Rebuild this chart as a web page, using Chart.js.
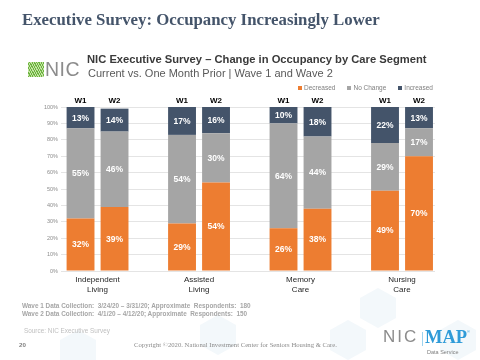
<!DOCTYPE html>
<html>
<head>
<meta charset="utf-8">
<script src="https://cdn.jsdelivr.net/npm/chart.js@4.4.1/dist/chart.umd.min.js"></script>
<style>
  html, body { margin: 0; padding: 0; background: #fff; }
  #slide { position: relative; width: 480px; height: 360px; overflow: hidden; font-family: "Liberation Sans", Arial, sans-serif; }
  #slide canvas { position: absolute; left: 0; top: 0; z-index: 1; }
  .txt { position: absolute; white-space: nowrap; z-index: 2; }
  #bg { position: absolute; left: 0; top: 0; z-index: 0; }
  #title { left: 22px; top: 10px; font-family: "Liberation Serif", "DejaVu Serif", serif; font-weight: bold; font-size: 16.8px; color: #44546a; }
  #nicIcon { position: absolute; left: 28px; top: 62px; width: 16px; height: 15px; z-index: 2;
    background: repeating-linear-gradient(62deg, #6cb33f 0 1px, #c4e3a4 1px 2px); }
  #nicText { left: 45px; top: 58px; font-size: 19.5px; color: #8c8c8c; letter-spacing: 0.5px; }
  #sub1 { left: 87px; top: 53px; font-size: 11.2px; font-weight: bold; color: #3a3a3a; }
  #sub2 { left: 88px; top: 67px; font-size: 11px; color: #595959; }
  #legend { position: absolute; left: 298px; top: 84px; z-index: 2; display: flex; gap: 12px; font-size: 6.5px; color: #7f7f7f; }
  .legend-item { display: flex; align-items: center; white-space: nowrap; }
  .legend-color { display: inline-block; width: 4px; height: 4px; margin-right: 2px; }
  .foot { font-size: 6.4px; color: #a6a6a6; font-weight: bold; }
  #f1 { left: 22px; top: 302px; }
  #f2 { left: 22px; top: 310px; }
  #src { left: 24px; top: 327px; font-size: 6.4px; color: #bfbfbf; }
  #page { left: 19px; top: 341px; font-size: 6.2px; color: #7f7f7f; font-weight: bold; }
  #copy { left: 134px; top: 341px; font-size: 6.7px; color: #8c8c8c; font-family: "Liberation Serif", serif; }
  #logoNic { left: 383px; top: 327px; font-size: 17px; color: #8c8c8c; letter-spacing: 2px; }
  #logoBar { position: absolute; left: 422px; top: 332px; width: 1px; height: 14px; background: #9dd3ef; z-index: 2; }
  #logoMap { left: 425px; top: 327px; font-size: 18.5px; font-weight: bold; color: #2f9bd8; font-family: "Liberation Serif", serif; }
  #logoReg { left: 467px; top: 329px; font-size: 4px; color: #2f9bd8; }
  #logoDs { left: 427px; top: 349px; font-size: 5.5px; color: #7f7f7f; }
</style>
</head>
<body>
<div id="slide">
  <svg id="bg" width="480" height="360">
    <g fill="#f3f8fb" stroke="none">
      <polygon points="200,325 218,315 236,325 236,345 218,355 200,345"/>
      <polygon points="330,330 348,320 366,330 366,350 348,360 330,350"/>
      <polygon points="360,298 378,288 396,298 396,318 378,328 360,318"/>
      <polygon points="60,340 78,330 96,340 96,360 78,370 60,360"/>
      <polygon points="440,330 458,320 476,330 476,350 458,360 440,350"/>
    </g>
  </svg>
  <canvas id="chart" width="480" height="360"></canvas>
  <div class="txt" id="title">Executive Survey: Occupancy Increasingly Lower</div>
  <div id="nicIcon"></div>
  <div class="txt" id="nicText">NIC</div>
  <div class="txt" id="sub1">NIC Executive Survey – Change in Occupancy by Care Segment</div>
  <div class="txt" id="sub2">Current vs. One Month Prior | Wave 1 and Wave 2</div>
  <div id="legend"></div>
  <div class="txt foot" id="f1">Wave 1 Data Collection:&nbsp; 3/24/20 – 3/31/20; Approximate&nbsp; Respondents:&nbsp; 180</div>
  <div class="txt foot" id="f2">Wave 2 Data Collection:&nbsp; 4/1/20 – 4/12/20; Approximate&nbsp; Respondents:&nbsp; 150</div>
  <div class="txt" id="src">Source: NIC Executive Survey</div>
  <div class="txt" id="page">20</div>
  <div class="txt" id="copy">Copyright ©2020. National Investment Center for Seniors Housing &amp; Care.</div>
  <div class="txt" id="logoNic">NIC</div>
  <div id="logoBar"></div>
  <div class="txt" id="logoMap">MAP</div>
  <div class="txt" id="logoReg">®</div>
  <div class="txt" id="logoDs">Data Service</div>
</div>

<script>
  // -- Data --
  var CATEGORIES = [['Independent', 'Living'], ['Assisted', 'Living'], ['Memory', 'Care'], ['Nursing', 'Care']];
  var WAVES = ['W1', 'W2'];
  var SEGMENTS = ['Decreased', 'No Change', 'Increased'];

  var W1_DECREASED = [32, 29, 26, 49];
  var W1_NO_CHANGE = [55, 54, 64, 29];
  var W1_INCREASED = [13, 17, 10, 22];

  var W2_DECREASED = [39, 54, 38, 70];
  var W2_NO_CHANGE = [46, 30, 44, 17];
  var W2_INCREASED = [14, 16, 18, 13];

  var SERIES = [
    [W1_DECREASED, W1_NO_CHANGE, W1_INCREASED],
    [W2_DECREASED, W2_NO_CHANGE, W2_INCREASED]
  ];

  // -- Style --
  var COLORS = ['#ed7d31', '#a5a5a5', '#44546a'];
  var CAT_PCT = 0.67;
  var BAR_PCT = 0.82;
  var X_MIN = -0.36;
  var X_MAX = 3.325;

  Chart.defaults.font.family = '"Liberation Sans", Arial, sans-serif';

  var datasets = [];
  WAVES.forEach(function (wave, w) {
    SEGMENTS.forEach(function (seg, s) {
      datasets.push({
        label: seg,
        stack: wave,
        data: SERIES[w][s].map(function (v, i) { return { x: i, y: v }; }),
        backgroundColor: COLORS[s],
        borderWidth: 0,
        categoryPercentage: CAT_PCT,
        barPercentage: BAR_PCT
      });
    });
  });

  // value labels inside each segment, wave name above each column
  var barLabels = {
    id: 'barLabels',
    afterDatasetsDraw: function (chart) {
      var ctx = chart.ctx;
      var top = chart.chartArea.top;
      ctx.save();
      ctx.textAlign = 'center';
      ctx.textBaseline = 'middle';
      chart.data.datasets.forEach(function (ds, di) {
        var bars = chart.getDatasetMeta(di).data;
        ctx.font = 'bold 8.5px "Liberation Sans", Arial, sans-serif';
        ctx.fillStyle = '#ffffff';
        bars.forEach(function (bar, i) {
          ctx.fillText(ds.data[i].y + '%', bar.x, (bar.y + bar.base) / 2 + 0.5);
        });
        if (di % SEGMENTS.length === SEGMENTS.length - 1) {
          ctx.font = 'bold 8px "Liberation Sans", Arial, sans-serif';
          ctx.fillStyle = '#000000';
          bars.forEach(function (bar) {
            ctx.fillText(ds.stack, bar.x, top - 6);
          });
        }
      });
      ctx.restore();
    }
  };

  new Chart(document.getElementById('chart'), {
    type: 'bar',
    data: { datasets: datasets },
    options: {
      responsive: false,
      devicePixelRatio: 1,
      animation: false,
      layout: { padding: { top: 107, left: 31, right: 45, bottom: 65 } },
      plugins: {
        tooltip: { enabled: false },
        legend: { display: false }
      },
      scales: {
        x: {
          type: 'linear',
          min: X_MIN,
          max: X_MAX,
          offset: false,
          stacked: true,
          grid: { display: false, drawTicks: false },
          border: { display: false },
          ticks: {
            stepSize: 1,
            includeBounds: false,
            autoSkip: false,
            maxRotation: 0,
            padding: 4,
            color: '#262626',
            font: { size: 8 },
            callback: function (v) { return CATEGORIES[v] || ''; }
          },
          afterFit: function (scale) { scale.height = 24; }
        },
        y: {
          stacked: true,
          min: 0,
          max: 100,
          grid: { color: '#e4e4e4', drawTicks: false },
          border: { display: false },
          ticks: {
            stepSize: 10,
            padding: 3,
            color: '#8c8c8c',
            font: { size: 5.5 },
            callback: function (v) { return v + '%'; }
          },
          afterFit: function (scale) { scale.width = 30; }
        }
      }
    },
    plugins: [barLabels]
  });

  // Build HTML legend
  document.getElementById('legend').innerHTML = SEGMENTS.map(function (seg, s) {
    return '<span class="legend-item">' +
      '<span class="legend-color" style="background:' + COLORS[s] + '"></span>' +
      seg + '</span>';
  }).join('');
</script>
</body>
</html>
